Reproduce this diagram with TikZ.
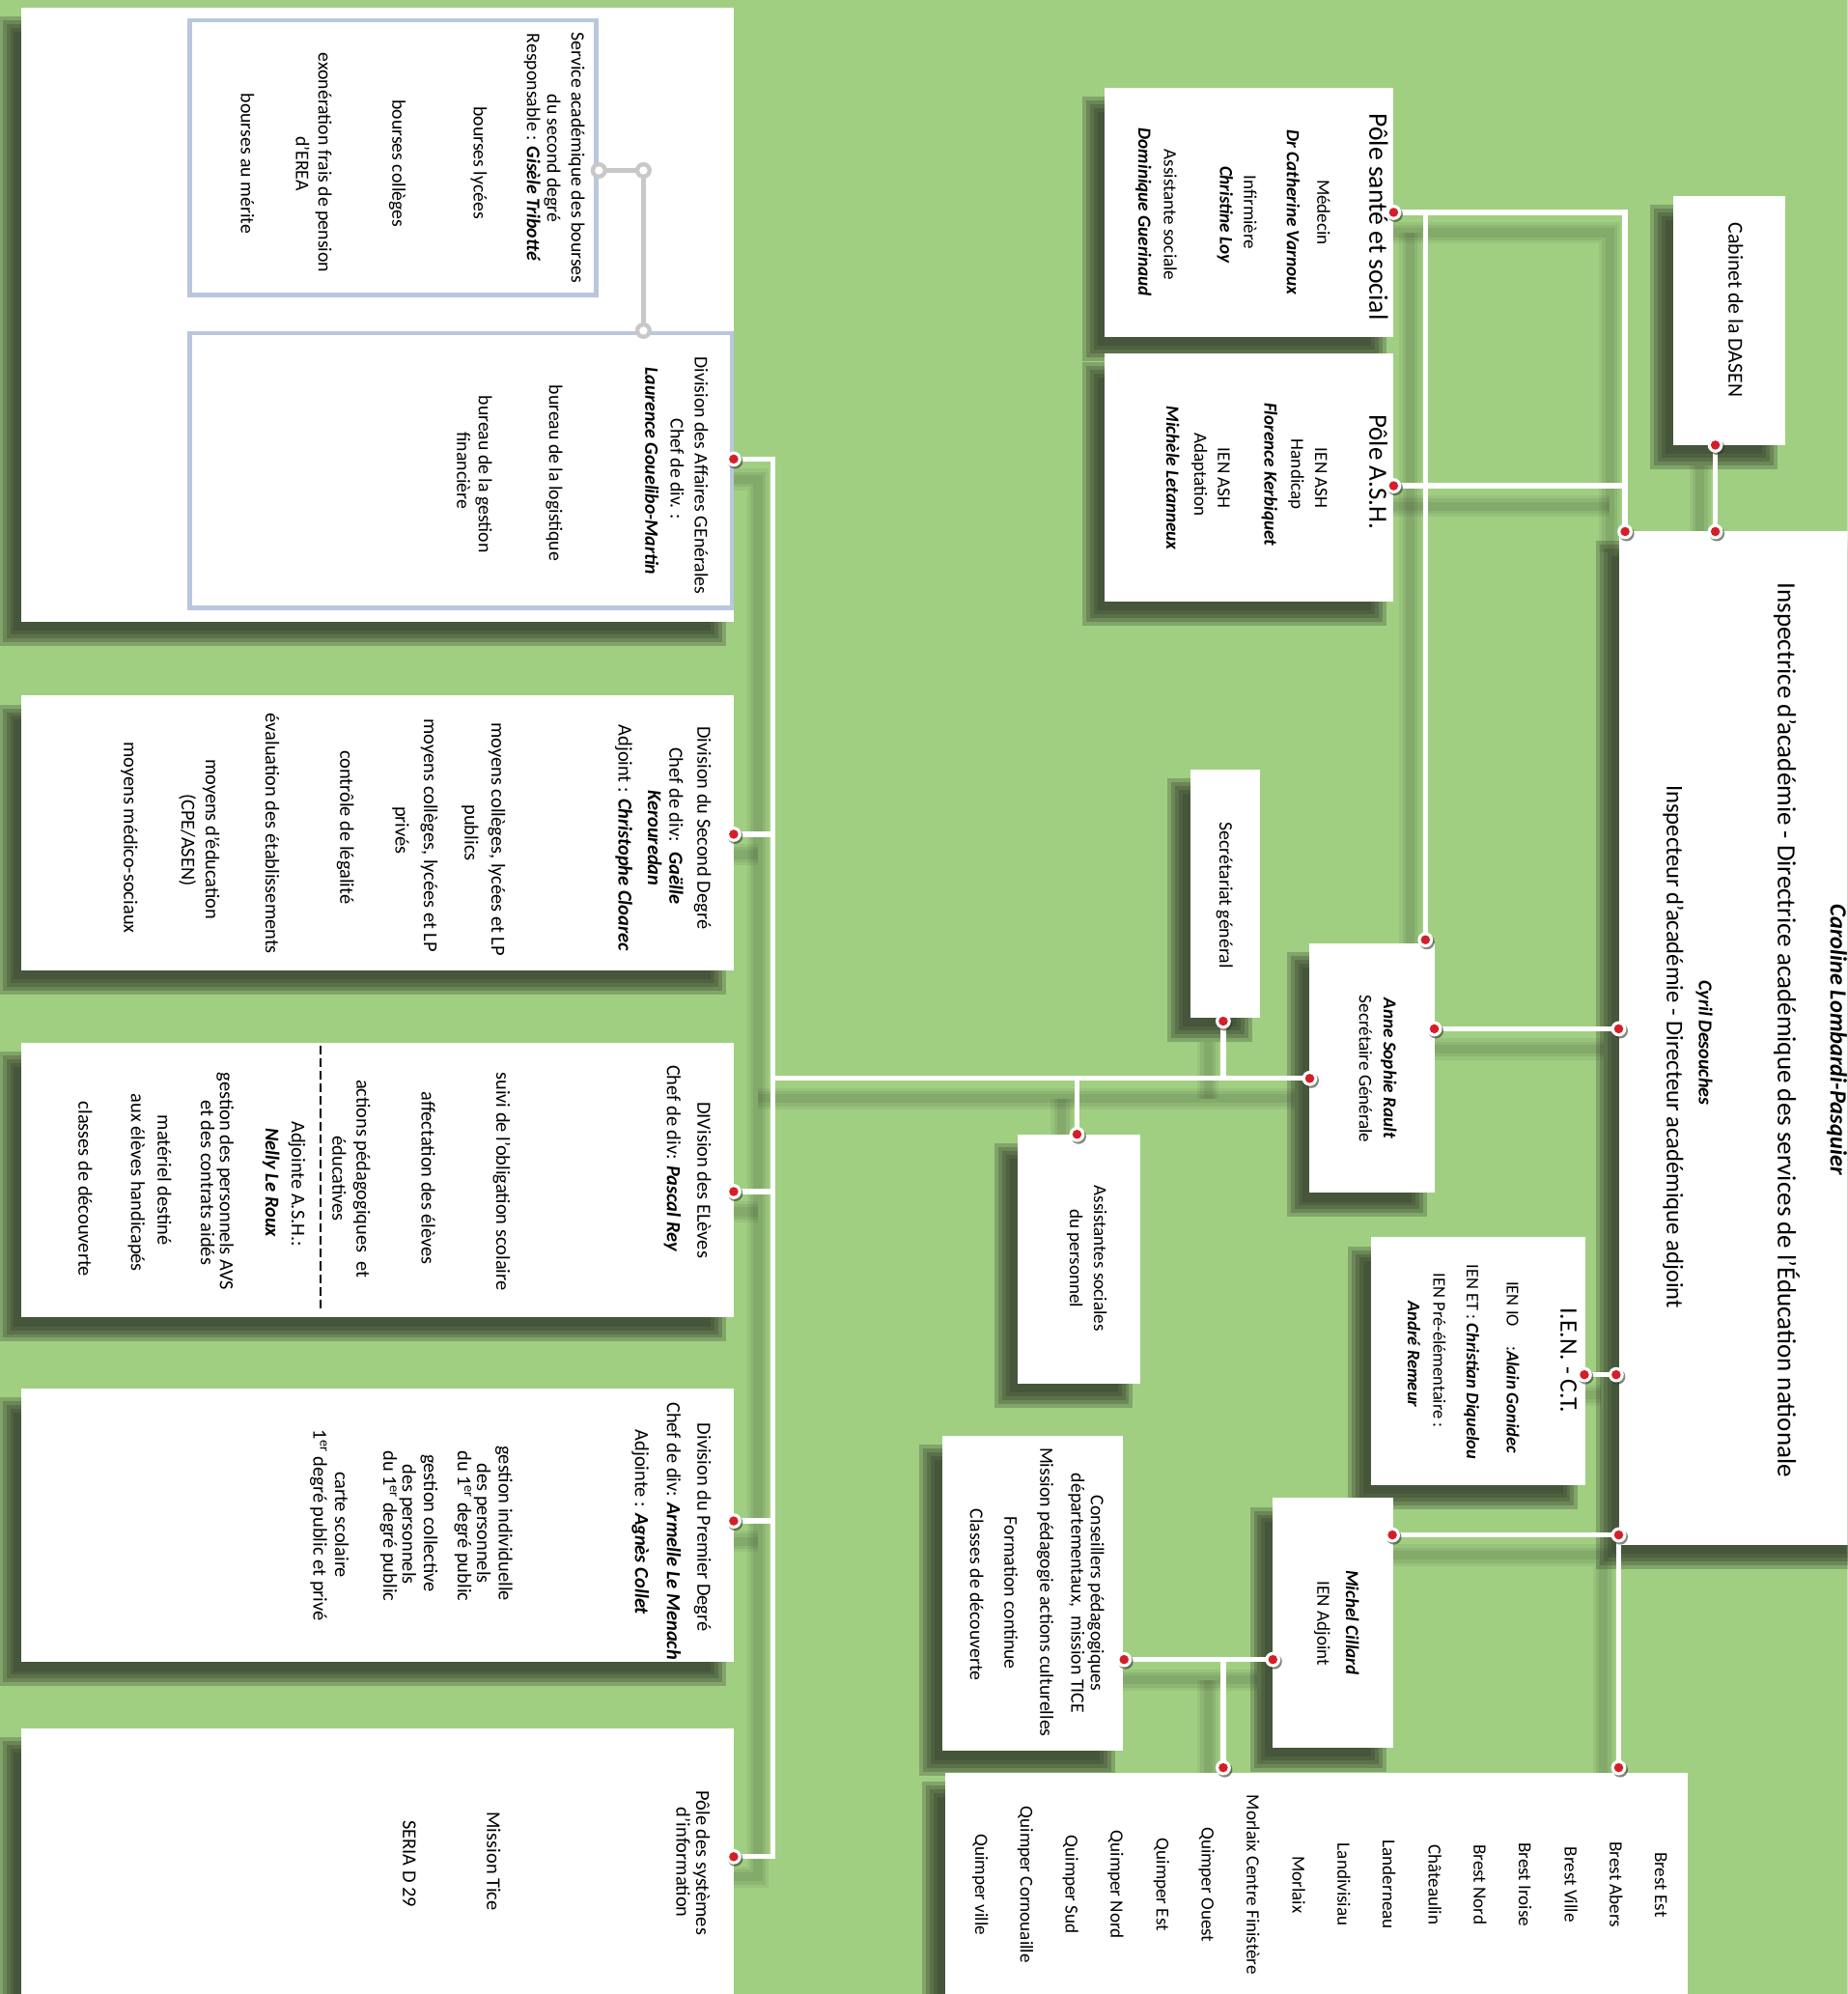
\documentclass[tikz,border=0pt]{standalone}
\usepackage{fontspec}
\setmainfont{Carlito}
\usetikzlibrary{calc}
\definecolor{bggreen}{RGB}{160,207,130}
\definecolor{shc}{RGB}{50,58,42}
\definecolor{reddot}{RGB}{214,30,40}
\definecolor{inbord}{RGB}{185,199,221}
\definecolor{greyc}{RGB}{200,200,200}
\newcounter{tc}
\newcommand\nmb[1]{\textbf{\textit{#1}}}
\tikzset{
  wbox/.style={fill=white,draw=none,inner sep=0pt,outer sep=0pt,rectangle},
  vtxt/.style={rotate=-90,inner sep=0pt,anchor=center,text height=0.7em,text depth=0.2em},
  conn/.style={draw=white,line width=4pt},
  lsha/.style={draw=shc,line width=17pt,opacity=0.08},
  lshb/.style={draw=shc,line width=12pt,opacity=0.09},
  lshc/.style={draw=shc,line width=7pt,opacity=0.1},
  inbox/.style={draw=inbord,line width=3.5pt},
  greyline/.style={draw=greyc,line width=4pt},
  dashline/.style={draw=black,line width=1.3pt,dash pattern=on 7pt off 3pt},
}
\newcommand\vt[4][15.5]{\stepcounter{tc}\node[vtxt,font=\fontsize{#1}{#1}\selectfont] (T\arabic{tc}) at (#2,#3) {#4};}
\newcommand\mybox[5]{%
  \pgfmathsetmacro\bw{#4-#2}\pgfmathsetmacro\bh{#5-#3}%
  \pgfmathsetmacro\bcx{(#2+#4)/2}\pgfmathsetmacro\bcy{(#3+#5)/2}%
  \node[wbox,minimum width=\bw pt,minimum height=\bh pt] (#1) at (\bcx,\bcy) {};}
\newcommand\myshadow[4]{%
  \foreach \ee in {-6,-3,0,3,6}{%
    \fill[shc,opacity=0.28] ({#1-12-(\ee)},{#2+13-(\ee)}) rectangle ({#3-12+(\ee)},{#4+13+(\ee)});}}
\newcommand\rdot[1]{%
  \fill[shc,opacity=0.6] ($(#1)+(1.2,1.6)$) circle (6);
  \fill[white] (#1) circle (6);
  \fill[reddot] (#1) circle (3.6);}
\newcommand\gdot[1]{%
  \fill[greyc] (#1) circle (6.5);
  \fill[white] (#1) circle (3.2);}
\newcommand\connpaths[1]{%
 \draw[#1] (dAG) -- (jTop) -- (jBot) -- (dPSI);
 \draw[#1] (dSD) -- (dSD -| jTop);
 \draw[#1] (dEL) -- (dEL -| jTop);
 \draw[#1] (dPD) -- (dPD -| jTop);
 \draw[#1] (jMid) -- (dASRl);
 \draw[#1] (dSG) -- (dSG |- jMid);
 \draw[#1] (dAS) -- (dAS |- jMid);
 \draw[#1] (dPSS) -| (dIAa);
 \draw[#1] (dASH) -- (dASH -| dIAa);
 \draw[#1] (dASRt) -- (dASRt |- dPSS);
 \draw[#1] (dCAB) -- (dIAb);
 \draw[#1] (dASRr) -- (dIAc);
 \draw[#1] (dIEN) -- (dIAd);
 \draw[#1] (dMCr) -- (dIAe) -- (dCIRb);
 \draw[#1] (dCP) -- (dMCl);
 \draw[#1] (dCIRa) -- (dCIRa |- dMCl);
}
\begin{document}
\begin{tikzpicture}[x=1pt,y=-1pt]
\useasboundingbox (0,0) rectangle (1453,1568);
\clip (0,0) rectangle (1453,1568);
\fill[bggreen] (0,0) rectangle (1453,1568);

% ---------- coordinates ----------
\coordinate (dAG) at (577,361);
\coordinate (dSD) at (577,656);
\coordinate (dEL) at (577,937);
\coordinate (dPD) at (577,1196);
\coordinate (dPSI) at (577,1460);
\coordinate (jTop) at (608,361);
\coordinate (jBot) at (608,1460);
\coordinate (jMid) at (608,848);
\coordinate (dASRl) at (1030,848);
\coordinate (dASRt) at (1121,739);
\coordinate (dASRr) at (1128,809);
\coordinate (dSG) at (962,803);
\coordinate (dAS) at (847,892);
\coordinate (dPSS) at (1096,167);
\coordinate (dASH) at (1096,382);
\coordinate (dCAB) at (1349,350);
\coordinate (dIAa) at (1278,418);
\coordinate (dIAb) at (1349,418);
\coordinate (dIAc) at (1273,809);
\coordinate (dIAd) at (1271,1081);
\coordinate (dIAe) at (1273,1207);
\coordinate (dIEN) at (1246,1081);
\coordinate (dMCr) at (1095,1207);
\coordinate (dMCl) at (1001,1305);
\coordinate (dCP) at (884,1305);
\coordinate (dCIRa) at (962,1390);
\coordinate (dCIRb) at (1273,1390);
\coordinate (g1) at (471,134);
\coordinate (g2) at (506,134);
\coordinate (g3) at (506,260);
\coordinate (dsA) at (252,822);
\coordinate (dsB) at (252,1030);

% ---------- box shadows ----------
\myshadow{17}{6}{577}{489}
\myshadow{17}{547}{577}{763}
\myshadow{17}{820}{577}{1036}
\myshadow{17}{1092}{577}{1307}
\myshadow{17}{1359}{577}{1600}
\myshadow{869}{69}{1096}{265}
\myshadow{869}{278}{1096}{473}
\myshadow{1316}{154}{1404}{350}
\myshadow{1273}{418}{1470}{1215}
\myshadow{936}{605}{991}{800}
\myshadow{1030}{742}{1128}{938}
\myshadow{800}{892}{897}{1088}
\myshadow{1078}{973}{1247}{1168}
\myshadow{1001}{1178}{1096}{1374}
\myshadow{741}{1129}{883}{1377}
\myshadow{743}{1394}{1327}{1600}

% ---------- connector shadows ----------
\begin{scope}[transform canvas={shift={(-12pt,-16pt)}}]
 \connpaths{lsha}
 \connpaths{lshb}
 \connpaths{lshc}
\end{scope}
% ---------- connectors ----------
\connpaths{conn}

% ---------- boxes ----------
\mybox{bAG}{17}{6}{577}{489}
\mybox{bSD}{17}{547}{577}{763}
\mybox{bEL}{17}{820}{577}{1036}
\mybox{bPD}{17}{1092}{577}{1307}
\mybox{bPSI}{17}{1359}{577}{1600}
\mybox{bPSS}{869}{69}{1096}{265}
\mybox{bASH}{869}{278}{1096}{473}
\mybox{bCAB}{1316}{154}{1404}{350}
\mybox{bIA}{1273}{418}{1470}{1215}
\mybox{bSG}{936}{605}{991}{800}
\mybox{bASR}{1030}{742}{1128}{938}
\mybox{bAS}{800}{892}{897}{1088}
\mybox{bIEN}{1078}{973}{1247}{1168}
\mybox{bMC}{1001}{1178}{1096}{1374}
\mybox{bCP}{741}{1129}{883}{1377}
\mybox{bCIR}{743}{1394}{1327}{1600}

% inner framed boxes of the AG block
\draw[inbox] (149,16) rectangle (469,232);
\draw[inbox] (149,262) rectangle (575.5,478);
\draw[greyline] (g1) -- (g2) -- (g3);
\gdot{g1}\gdot{g2}\gdot{g3}
\draw[dashline] (dsA) -- (dsB);

% ---------- dots ----------
\foreach \p in {dAG,dSD,dEL,dPD,dPSI,dASRl,dASRt,dASRr,dSG,dAS,dPSS,dASH,dCAB,dIAa,dIAb,dIAc,dIAd,dIAe,dIEN,dMCr,dMCl,dCP,dCIRa,dCIRb}{\rdot{\p}}

% ---------- texts : AG ----------
\vt[15]{452}{124}{Service académique des bourses}
\vt[15]{433}{124.5}{du second degré}
\vt[15]{417}{116}{Responsable : \nmb{Gisèle Tribotté}}
\vt[15]{375}{128}{bourses lycées}
\vt[15]{311}{128.6}{bourses collèges}
\vt[15]{253}{128}{exonération frais de pension}
\vt[15]{235.4}{128.7}{d'EREA}
\vt[15]{192}{128.6}{bourses au mérite}
\vt[15]{549}{374}{Division des Affaires GEnérales}
\vt[15]{530}{369}{Chef de div. :}
\vt[15]{510}{370.5}{\nmb{Laurence Gouelibo-Martin}}
\vt[15]{434.5}{372}{bureau de la logistique}
\vt[15]{379}{373}{bureau de la gestion}
\vt[15]{362}{370}{financière}

% ---------- Second degré ----------
\vt{551}{651}{Division du Second Degré}
\vt{529}{649.5}{Chef de div:~ \nmb{Gaëlle}}
\vt{512}{659}{\nmb{Kerouredan}}
\vt{489}{659}{Adjoint : \nmb{Christophe Cloarec}}
\vt{389}{660}{moyens collèges, lycées et LP}
\vt{368}{655}{publics}
\vt{336}{657}{moyens collèges, lycées et LP}
\vt{313.5}{653}{privés}
\vt{270}{650.5}{contrôle de légalité}
\vt{211.5}{655.5}{évaluation des établissements}
\vt{164.3}{660}{moyens d'éducation}
\vt{145.4}{660.6}{(CPE/ASEN)}
\vt{100}{658.7}{moyens médico-sociaux}

% ---------- Élèves ----------
\vt{551}{928}{DIVision des ELèves}
\vt{527}{911}{Chef de div: \nmb{Pascal Rey}}
\vt{392.8}{929}{suivi de l'obligation scolaire}
\vt{334}{926.5}{affectation des élèves}
\vt{283}{927}{actions pédagogiques~ et}
\vt{264}{927}{éducatives}
\vt{232}{931}{Adjointe A.S.H.:}
\vt{211.5}{930}{\nmb{Nelly Le Roux}}
\vt{175.6}{929}{gestion des personnels AVS}
\vt{160.5}{930}{et des contrats aidés}
\vt{126.5}{928}{matériel destiné}
\vt{105.7}{930}{aux élèves handicapés}
\vt{64.2}{935}{classes de découverte}

% ---------- Premier degré ----------
\vt{551}{1201}{Division du Premier Degré}
\vt{527}{1204}{Chef de div: \nmb{Armelle Le Menach}}
\vt{502}{1197}{Adjointe : \nmb{Agnès Collet}}
\vt{394.7}{1198}{gestion individuelle}
\vt{377.7}{1198}{des personnels}
\vt{362.6}{1200}{du 1\textsuperscript{er} degré public}
\vt{336}{1198}{gestion collective}
\vt{319}{1198.7}{des personnels}
\vt{304}{1200}{du 1\textsuperscript{er} degré public}
\vt{266}{1199}{carte scolaire}
\vt{249}{1199.6}{1\textsuperscript{er} degré public et privé}

% ---------- Pôle SI ----------
\vt{550}{1465}{Pôle des systèmes}
\vt{534.5}{1464.5}{d'information}
\vt{385.4}{1463.7}{Mission Tice}
\vt{319.5}{1465.6}{SERIA D 29}

% ---------- Pôle santé ----------
\vt[21]{1079.5}{170.5}{Pôle santé et social}
\vt[14.5]{1038.4}{167}{Médecin}
\vt[14.5]{1014.6}{167}{\nmb{Dr Catherine Varnoux}}
\vt[14.5]{980.8}{167}{Infirmière}
\vt[14.5]{962}{169}{\nmb{Christine Loy}}
\vt[14.5]{918}{169}{Assistante sociale}
\vt[14.5]{897.8}{167}{\nmb{Dominique Guerinaud}}

% ---------- Pôle ASH ----------
\vt[20.5]{1079.5}{371}{Pôle A.S.H.}
\vt[14.5]{1036.7}{376}{IEN ASH}
\vt[14.5]{1018}{373}{Handicap}
\vt[14.5]{997}{373}{\nmb{Florence Kerbiquet}}
\vt[14.5]{960.3}{376}{IEN ASH}
\vt[14.5]{941.8}{373}{Adaptation}
\vt[14.5]{919.8}{376}{\nmb{Michèle Letanneux}}

% ---------- Cabinet ----------
\vt[16.5]{1362}{243.7}{Cabinet de la DASEN}

% ---------- IA-DASEN ----------
\vt[18.5]{1442}{817.6}{\nmb{Caroline Lombardi-Pasquier}}
\vt[20.5]{1400.6}{810}{Inspectrice d'académie - Directrice académique des services de l'Éducation nationale}
\vt[15.2]{1338.6}{820}{\nmb{Cyril Desouches}}
\vt[18.7]{1313.3}{823}{Inspecteur d'académie - Directeur académique adjoint}

% ---------- Secrétariat ----------
\vt[15]{961.6}{704}{Secrétariat général}
\vt[14.5]{1090.6}{840}{\nmb{Anne Sophie Rault}}
\vt[14.5]{1071.6}{840.7}{Secrétaire Générale}
\vt[14.5]{862.8}{989.6}{Assistantes sociales}
\vt[14.5]{843.9}{989.6}{du personnel}

% ---------- IEN-CT ----------
\vt[19.5]{1229.8}{1069.8}{I.E.N. - C.T.}
\vt[14]{1187.5}{1075.4}{IEN IO\hspace{1.1em}:\nmb{Alain Gonidec}}
\vt[14]{1156}{1071}{IEN ET : \nmb{Christian Diquelou}}
\vt[14]{1129.8}{1062}{IEN Pré-élémentaire :}
\vt[14]{1109.6}{1065}{\nmb{André Remeur}}

% ---------- Michel Cillard ----------
\vt[14.5]{1061}{1276}{\nmb{Michel Cillard}}
\vt[14.5]{1038.5}{1276.7}{IEN Adjoint}

% ---------- Conseillers ----------
\vt[15]{860.5}{1253}{Conseillers pédagogiques}
\vt[15]{845}{1252.8}{départementaux,~ mission TICE}
\vt[15]{820.6}{1252}{Mission pédagogie actions culturelles}
\vt[15]{792.5}{1252.8}{Formation continue}
\vt[15]{765.6}{1254}{Classes de découverte}

% ---------- Circonscriptions ----------
\vt[14.5]{1304}{1482}{Brest Est}
\vt[14.5]{1268.5}{1482}{Brest Abers}
\vt[14.5]{1233}{1482}{Brest Ville}
\vt[14.5]{1197}{1482}{Brest Iroise}
\vt[14.5]{1161.5}{1482}{Brest Nord}
\vt[14.5]{1126}{1482}{Châteaulin}
\vt[14.5]{1090}{1482}{Landerneau}
\vt[14.5]{1054.5}{1482}{Landivisiau}
\vt[14.5]{1019}{1482}{Morlaix}
\vt[14.5]{983}{1482}{Morlaix Centre Finistère}
\vt[14.5]{947.5}{1482}{Quimper Ouest}
\vt[14.5]{912}{1482}{Quimper Est}
\vt[14.5]{876}{1482}{Quimper Nord}
\vt[14.5]{840.5}{1482}{Quimper Sud}
\vt[14.5]{805}{1482}{Quimper Cornouaille}
\vt[14.5]{769.5}{1482}{Quimper ville}
\end{tikzpicture}
\end{document}
